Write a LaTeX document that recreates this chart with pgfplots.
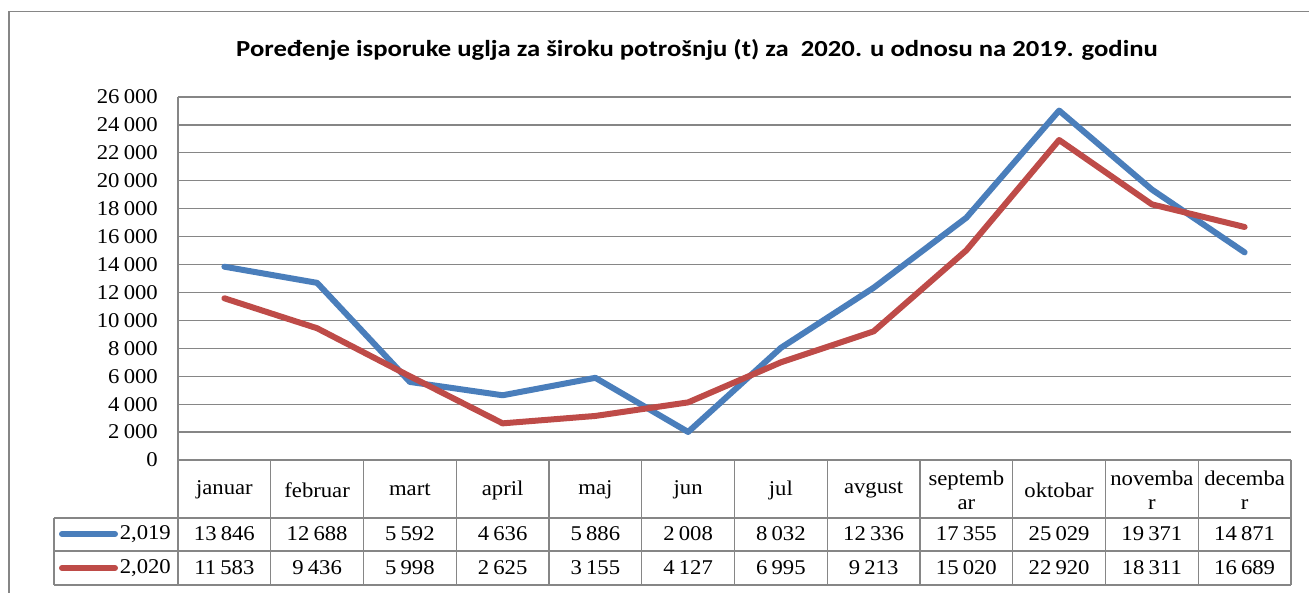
\documentclass[border=0pt]{standalone}
\usepackage{pgfplots}
\pgfplotsset{compat=1.18}
\usepackage{fontspec}
\setmainfont[FakeStretch=1.08]{Liberation Serif}
\newfontfamily\titlefont[FakeStretch=1.16]{Carlito}
\definecolor{sblue}{HTML}{4A7EBB}
\definecolor{sred}{HTML}{BE4B48}
\definecolor{gridc}{RGB}{134,134,134}
\pgfkeys{/pgf/number format/1000 sep={\hspace{0.2em}}, /pgf/number format/assume math mode=true}
\begin{document}
\begin{tikzpicture}[x=1pt,y=1pt]
\useasboundingbox (0,0) rectangle (1309,592);
\draw[gridc, line width=1.3pt] (9,-2) -- (9,580.5) -- (1312,580.5);
\node[font=\titlefont\bfseries\fontsize{23}{27}\selectfont] at (697,542) {Poređenje isporuke uglja za široku potrošnju (t) za\ \ 2020. u odnosu na 2019. godinu};
\begin{axis}[at={(178pt,132pt)}, anchor=south west, scale only axis,
  width=1113pt, height=363pt,
  xmin=0, xmax=12, ymin=0, ymax=26000,
  ytick={0,2000,...,26000}, xtick=\empty,
  scaled y ticks=false,
  ymajorgrids, grid style={gridc, line width=1.3pt},
  axis line style={draw=none},
  major tick length=0pt,
  yticklabel style={font=\fontsize{21}{25}\selectfont, inner sep=0pt, anchor=east, xshift=-20pt},
  /pgf/number format/1000 sep={\hspace{0.2em}},
  /pgf/number format/assume math mode=true,
  clip=false]
\addplot[sblue, line width=6pt, line cap=round, line join=round] coordinates {
(0.5,13846) (1.5,12688) (2.5,5592) (3.5,4636) (4.5,5886) (5.5,2008)
(6.5,8032) (7.5,12336) (8.5,17355) (9.5,25029) (10.5,19371) (11.5,14871)};
\addplot[sred, line width=6pt, line cap=round, line join=round] coordinates {
(0.5,11583) (1.5,9436) (2.5,5998) (3.5,2625) (4.5,3155) (5.5,4127)
(6.5,6995) (7.5,9213) (8.5,15020) (9.5,22920) (10.5,18311) (11.5,16689)};
\end{axis}
% data table
\begin{scope}[gridc, line width=1.3pt]
\draw (178,495) -- (178,7);
\foreach \k in {1,...,12} \draw ({178+92.75*\k},132) -- ({178+92.75*\k},7);
\draw (54,74) -- (1291,74);
\draw (54,41) -- (1291,41);
\draw (54,7) -- (1291,7);
\draw (54,74) -- (54,7);
\end{scope}
\begin{scope}[every node/.style={font=\fontsize{21}{24}\selectfont, align=center, inner sep=0pt}]
\foreach \m [count=\i from 0] in {januar,februar,mart,april,maj,jun,jul,avgust,{septemb\\ar},oktobar,{novemba\\r},{decemba\\r}}
  \node at ({224.375+92.75*\i},102) {\m};
\foreach \v [count=\i from 0] in {13846,12688,5592,4636,5886,2008,8032,12336,17355,25029,19371,14871}
  \node at ({224.375+92.75*\i},58) {\pgfmathprintnumber{\v}};
\foreach \v [count=\i from 0] in {11583,9436,5998,2625,3155,4127,6995,9213,15020,22920,18311,16689}
  \node at ({224.375+92.75*\i},24) {\pgfmathprintnumber{\v}};
\node[anchor=east] at (171,58) {2,019};
\node[anchor=east] at (171,24) {2,020};
\end{scope}
\draw[sblue, line width=6pt, line cap=round] (62,58) -- (115,58);
\draw[sred, line width=6pt, line cap=round] (62,24) -- (115,24);
\end{tikzpicture}
\end{document}
